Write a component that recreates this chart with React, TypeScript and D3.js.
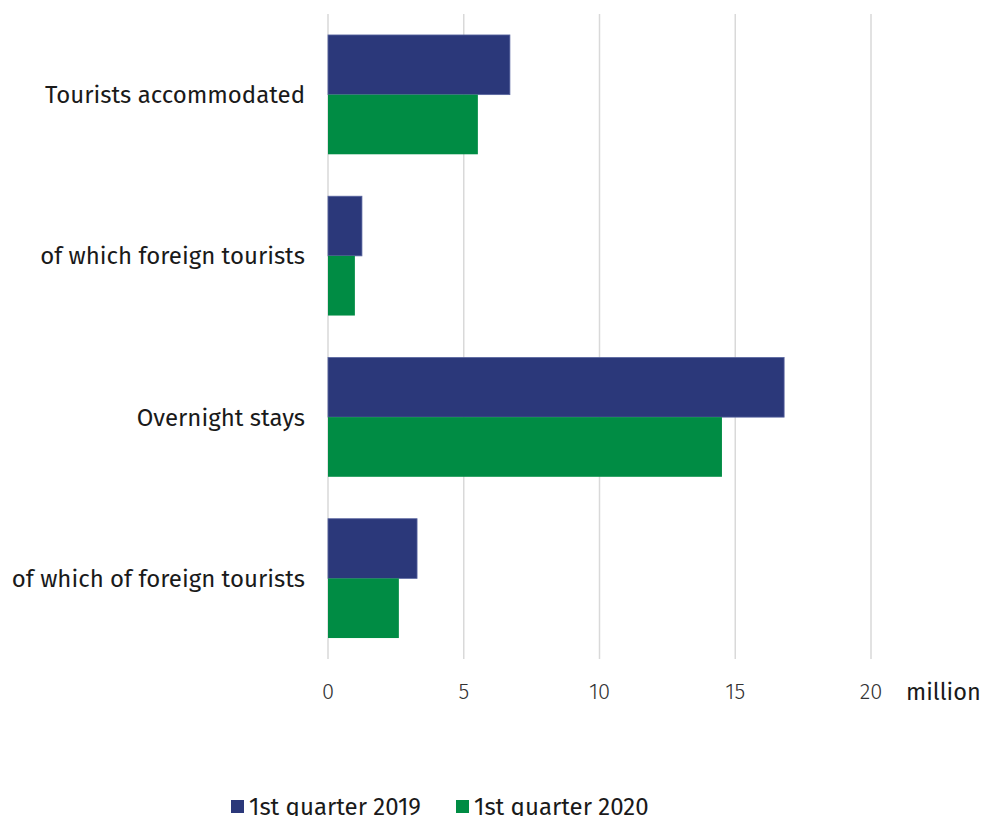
import * as d3 from "d3";

const categories = [
  "Tourists accommodated",
  "of which foreign tourists",
  "Overnight stays",
  "of which of foreign tourists",
];
const series = ["1st quarter 2019", "1st quarter 2020"];
const values2019 = [6.7, 1.25, 16.8, 3.28];
const values2020 = [5.52, 0.99, 14.51, 2.61];
const ticks = [0, 5, 10, 15, 20];
const colors = ["#2b387a", "#008c44"];

const W = 982;
const H = 816;
const FONT = "'Fira Sans', 'Noto Sans', sans-serif";

export default function App() {
  const x = d3.scaleLinear().domain([0, 20]).range([328, 871]);
  const y = d3.scaleBand().domain(categories).range([14, 659]).paddingInner(0.26).paddingOuter(0.13);
  const sub = d3.scaleBand().domain(series).range([0, y.bandwidth()]);
  const data = [values2019, values2020];

  return (
    <svg width={W} height={H} style={{ position: "absolute", left: 0, top: 0, background: "#fff" }}>
      {/* gridlines */}
      {ticks.map((t) => (
        <line key={t} x1={x(t)} x2={x(t)} y1={14} y2={659} stroke="#d9d9d9" strokeWidth={1.5} />
      ))}
      {/* bars */}
      {categories.map((c, i) => (
        <g key={c} transform={`translate(0,${y(c)})`}>
          {series.map((s, j) => (
            <rect
              key={s}
              x={x(0)}
              y={sub(s)}
              width={x(data[j][i]) - x(0)}
              height={sub.bandwidth()}
              fill={colors[j]}
              stroke={j === 0 ? "#5a66a0" : "none"}
              strokeWidth={0.8}
            />
          ))}
          <text
            x={305}
            y={y.bandwidth() / 2}
            dy="0.35em"
            textAnchor="end"
            fontFamily={FONT}
            fontSize={24}
            fill="#1a1a1a"
          >
            {c}
          </text>
        </g>
      ))}
      {/* x tick labels */}
      {ticks.map((t) => (
        <text
          key={t}
          x={x(t)}
          y={699}
          textAnchor="middle"
          fontFamily={FONT}
          fontWeight={300}
          fontSize={22}
          fill="#333"
        >
          {t}
        </text>
      ))}
      <text x={906} y={700} fontFamily={FONT} fontSize={23.5} fill="#1a1a1a">
        million
      </text>
      {/* legend */}
      {series.map((s, j) => {
        const lx = j === 0 ? 231 : 456;
        return (
          <g key={s}>
            <rect x={lx} y={800} width={13} height={13} fill={colors[j]} />
            <text x={lx + 18} y={815} fontFamily={FONT} fontSize={24} fill="#1a1a1a">
              {s}
            </text>
          </g>
        );
      })}
    </svg>
  );
}
